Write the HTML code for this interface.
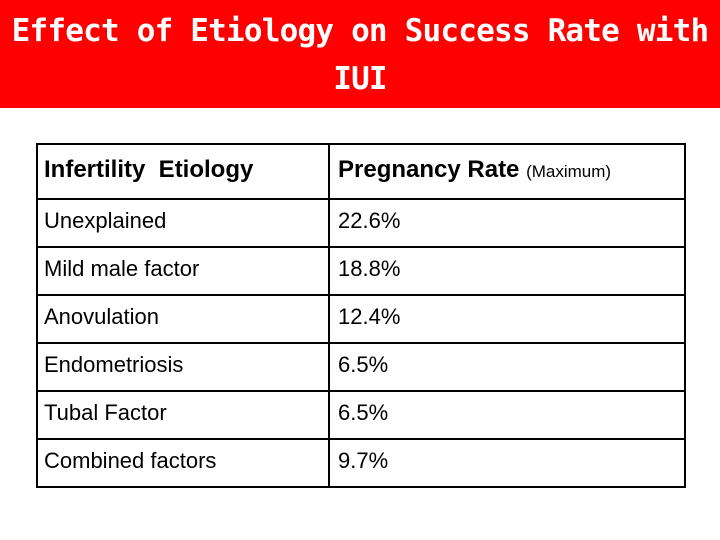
<!DOCTYPE html>
<html><head><meta charset="utf-8"><style>
body{margin:0;width:720px;height:540px;background:#fff;position:relative;overflow:hidden;font-family:"Liberation Sans",Arial,sans-serif}
#banner{position:absolute;left:0;top:0;width:720px;height:108px;background:#f00}
#title{position:absolute;left:0;top:7px;width:720px;text-align:center;color:#fff;font-family:"DejaVu Sans Mono",monospace;font-weight:bold;font-size:31px;line-height:48px;letter-spacing:-0.8px}
table{position:absolute;left:36px;top:143px;width:650px;border-collapse:collapse}
td{border:2px solid #000;height:42px;padding:0 0 4px 6px;font-size:22px;vertical-align:middle;color:#000}
td.c1{width:284px}
td.c2{padding-left:8px}
tr.h td{height:49px;font-weight:bold;font-size:24px}
.small{font-weight:normal;font-size:17px}
</style></head><body>
<div id="banner"></div>
<div id="title">Effect of Etiology on Success Rate with<br>IUI</div>
<table>
<tr class="h"><td class="c1">Infertility&nbsp; Etiology</td><td class="c2">Pregnancy Rate <span class="small">(Maximum)</span></td></tr>
<tr><td class="c1">Unexplained</td><td class="c2">22.6%</td></tr>
<tr><td class="c1">Mild male factor</td><td class="c2">18.8%</td></tr>
<tr><td class="c1">Anovulation</td><td class="c2">12.4%</td></tr>
<tr><td class="c1">Endometriosis</td><td class="c2">6.5%</td></tr>
<tr><td class="c1">Tubal Factor</td><td class="c2">6.5%</td></tr>
<tr><td class="c1">Combined factors</td><td class="c2">9.7%</td></tr>
</table>
</body></html>
